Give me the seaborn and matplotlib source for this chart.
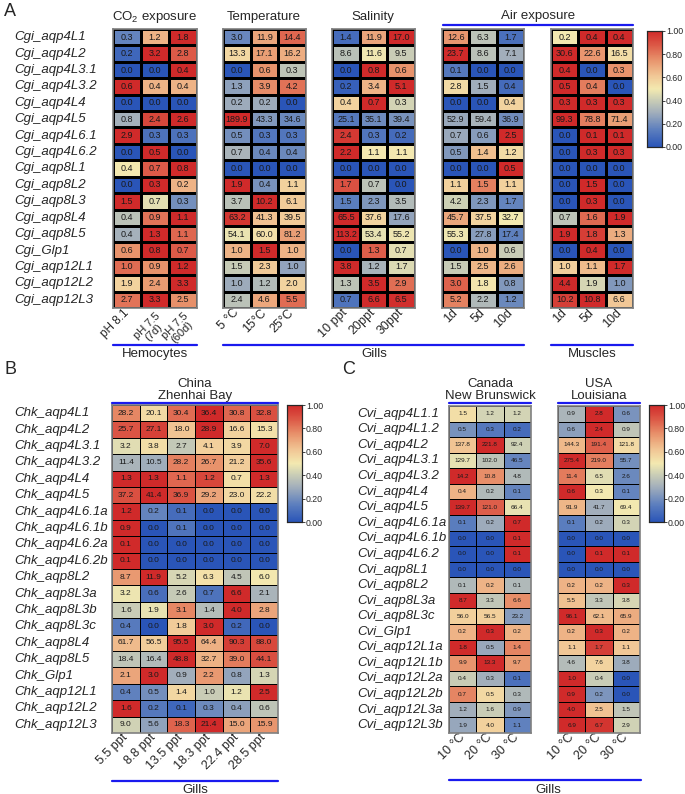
import matplotlib
matplotlib.use("Agg")
import matplotlib.pyplot as plt
import numpy as np
import pandas as pd
import seaborn as sns
from matplotlib.colors import LinearSegmentedColormap
from matplotlib.lines import Line2D

sns.set_style("white")
plt.rcParams['font.family'] = ['Liberation Sans', 'DejaVu Sans']
plt.rcParams['mathtext.default'] = 'regular'

W, H = 685, 794

# ---------------- panel A : Crassostrea gigas ----------------
cgi_genes = ["Cgi_aqp4L1", "Cgi_aqp4L2", "Cgi_aqp4L3.1", "Cgi_aqp4L3.2", "Cgi_aqp4L4",
             "Cgi_aqp4L5", "Cgi_aqp4L6.1", "Cgi_aqp4L6.2", "Cgi_aqp8L1", "Cgi_aqp8L2",
             "Cgi_aqp8L3", "Cgi_aqp8L4", "Cgi_aqp8L5", "Cgi_Glp1", "Cgi_aqp12L1",
             "Cgi_aqp12L2", "Cgi_aqp12L3"]
co2_cols = ["pH 8.1", "pH 7.5\n(7d)", "pH 7.5\n(60d)"]
temp_cols = ["5 °C", "15°C", "25°C"]
sal_cols = ["10 ppt", "20ppt", "30ppt"]
air_cols = ["1d", "5d", "10d"]

co2 = [[0.3, 1.2, 1.8], [0.2, 3.2, 2.8], [0.0, 0.0, 0.4], [0.6, 0.4, 0.4], [0.0, 0.0, 0.0],
       [0.8, 2.4, 2.6], [2.9, 0.3, 0.3], [0.0, 0.5, 0.0], [0.4, 0.7, 0.8], [0.0, 0.3, 0.2],
       [1.5, 0.7, 0.3], [0.4, 0.9, 1.1], [0.4, 1.3, 1.1], [0.6, 0.8, 0.7], [1.0, 0.9, 1.2],
       [1.9, 2.4, 3.3], [2.7, 3.3, 2.5]]
temp = [[3.0, 11.9, 14.4], [13.3, 17.1, 16.2], [0.0, 0.6, 0.3], [1.3, 3.9, 4.2], [0.2, 0.2, 0.0],
        [189.9, 43.3, 34.6], [0.5, 0.3, 0.3], [0.7, 0.4, 0.4], [0.0, 0.0, 0.0], [1.9, 0.4, 1.1],
        [3.7, 10.2, 6.1], [63.2, 41.3, 39.5], [54.1, 60.0, 81.2], [1.0, 1.5, 1.0], [1.5, 2.3, 1.0],
        [1.0, 1.2, 2.0], [2.4, 4.6, 5.5]]
sal = [[1.4, 11.9, 17.0], [8.6, 11.6, 9.5], [0.0, 0.8, 0.6], [0.2, 3.4, 5.1], [0.4, 0.7, 0.3],
       [25.1, 35.1, 39.4], [2.4, 0.3, 0.2], [2.2, 1.1, 1.1], [0.0, 0.0, 0.0], [1.7, 0.7, 0.0],
       [1.5, 2.3, 3.5], [65.5, 37.6, 17.6], [113.2, 53.4, 55.2], [0.0, 1.3, 0.7], [3.8, 1.2, 1.7],
       [1.3, 3.5, 2.9], [0.7, 6.6, 6.5]]
air_gill = [[12.6, 6.3, 1.7], [23.7, 8.6, 7.1], [0.1, 0.0, 0.0], [2.8, 1.5, 0.4], [0.0, 0.0, 0.4],
            [52.9, 59.4, 36.9], [0.7, 0.6, 2.5], [0.5, 1.4, 1.2], [0.0, 0.0, 0.5], [1.1, 1.5, 1.1],
            [4.2, 2.3, 1.7], [45.7, 37.5, 32.7], [55.3, 27.8, 17.4], [0.0, 1.0, 0.6], [1.5, 2.5, 2.6],
            [3.0, 1.8, 0.8], [5.2, 2.2, 1.2]]
air_muscle = [[0.2, 0.4, 0.4], [30.6, 22.6, 16.5], [0.4, 0.0, 0.3], [0.5, 0.4, 0.0], [0.3, 0.3, 0.3],
              [99.3, 78.8, 71.4], [0.0, 0.1, 0.1], [0.0, 0.3, 0.3], [0.0, 0.0, 0.0], [0.0, 1.5, 0.0],
              [0.0, 0.3, 0.0], [0.7, 1.6, 1.9], [1.9, 1.8, 1.3], [0.0, 0.4, 0.0], [1.0, 1.1, 1.7],
              [4.4, 1.9, 1.0], [10.2, 10.8, 6.6]]

# ---------------- panel B : Crassostrea hongkongensis ----------------
chk_genes = ["Chk_aqp4L1", "Chk_aqp4L2", "Chk_aqp4L3.1", "Chk_aqp4L3.2", "Chk_aqp4L4",
             "Chk_aqp4L5", "Chk_aqp4L6.1a", "Chk_aqp4L6.1b", "Chk_aqp4L6.2a", "Chk_aqp4L6.2b",
             "Chk_aqp8L2", "Chk_aqp8L3a", "Chk_aqp8L3b", "Chk_aqp8L3c", "Chk_aqp8L4",
             "Chk_aqp8L5", "Chk_Glp1", "Chk_aqp12L1", "Chk_aqp12L2", "Chk_aqp12L3"]
chk_cols = ["5.5 ppt", "8.8 ppt", "13.5 ppt", "18.3 ppt", "22.4 ppt", "28.5 ppt"]
chk = [[28.2, 20.1, 30.4, 36.4, 30.8, 32.8], [25.7, 27.1, 18.0, 28.9, 16.6, 15.3],
       [3.2, 3.8, 2.7, 4.1, 3.9, 7.0], [11.4, 10.5, 28.2, 26.7, 21.2, 35.6],
       [1.3, 1.3, 1.1, 1.2, 0.7, 1.3], [37.2, 41.4, 36.9, 29.2, 23.0, 22.2],
       [1.2, 0.2, 0.1, 0.0, 0.0, 0.0], [0.9, 0.0, 0.1, 0.0, 0.0, 0.0],
       [0.1, 0.0, 0.0, 0.0, 0.0, 0.0], [0.1, 0.0, 0.0, 0.0, 0.0, 0.0],
       [8.7, 11.9, 5.2, 6.3, 4.5, 6.0], [3.2, 0.6, 2.6, 0.7, 6.6, 2.1],
       [1.6, 1.9, 3.1, 1.4, 4.0, 2.8], [0.4, 0.0, 1.8, 3.0, 0.2, 0.0],
       [61.7, 56.5, 95.5, 64.4, 90.3, 88.0], [18.4, 16.4, 48.8, 32.7, 39.0, 44.1],
       [2.1, 3.0, 0.9, 2.2, 0.8, 1.3], [0.4, 0.5, 1.4, 1.0, 1.2, 2.5],
       [1.6, 0.2, 0.1, 0.3, 0.4, 0.6], [9.0, 5.6, 18.3, 21.4, 15.0, 15.9]]

# ---------------- panel C : Crassostrea virginica ----------------
cvi_genes = ["Cvi_aqp4L1.1", "Cvi_aqp4L1.2", "Cvi_aqp4L2", "Cvi_aqp4L3.1", "Cvi_aqp4L3.2",
             "Cvi_aqp4L4", "Cvi_aqp4L5", "Cvi_aqp4L6.1a", "Cvi_aqp4L6.1b", "Cvi_aqp4L6.2",
             "Cvi_aqp8L1", "Cvi_aqp8L2", "Cvi_aqp8L3a", "Cvi_aqp8L3c", "Cvi_Glp1",
             "Cvi_aqp12L1a", "Cvi_aqp12L1b", "Cvi_aqp12L2a", "Cvi_aqp12L2b", "Cvi_aqp12L3a",
             "Cvi_aqp12L3b"]
cvi_cols = ["10 °C", "20 °C", "30 °C"]
canada = [[1.5, 1.2, 1.2], [0.5, 0.3, 0.2], [137.8, 221.8, 92.4], [129.7, 102.0, 46.5],
          [14.2, 10.8, 4.8], [0.4, 0.2, 0.1], [139.7, 121.0, 66.4], [0.1, 0.2, 0.7],
          [0.0, 0.0, 0.1], [0.0, 0.0, 0.1], [0.0, 0.0, 0.0], [0.1, 0.2, 0.1], [8.7, 3.3, 6.6],
          [56.0, 56.5, 23.2], [0.2, 0.3, 0.2], [1.8, 0.5, 1.4], [9.9, 13.3, 9.7], [0.4, 0.3, 0.1],
          [0.7, 0.5, 0.3], [1.2, 1.6, 0.9], [1.9, 4.0, 1.1]]
usa = [[0.9, 2.8, 0.6], [0.6, 2.4, 0.9], [144.3, 191.4, 121.8], [275.4, 219.0, 55.7],
       [11.4, 6.5, 2.6], [0.6, 0.3, 0.1], [91.9, 41.7, 69.4], [0.1, 0.2, 0.3],
       [0.0, 0.0, 0.0], [0.0, 0.1, 0.1], [0.0, 0.0, 0.0], [0.2, 0.2, 0.3], [5.5, 3.3, 3.8],
       [96.1, 62.1, 65.9], [0.2, 0.3, 0.2], [1.1, 1.7, 1.1], [4.6, 7.6, 3.8], [1.0, 0.4, 0.0],
       [0.9, 0.2, 0.0], [4.0, 2.5, 1.5], [6.9, 6.7, 2.9]]

cmap = LinearSegmentedColormap.from_list("expr", [
    (0.00, "#2a55b8"), (0.15, "#5d7fbe"), (0.30, "#a3afbb"), (0.42, "#d0d2b5"),
    (0.50, "#f3e9b0"), (0.62, "#f1c594"), (0.75, "#e8936c"), (0.88, "#dc5846"),
    (1.00, "#d02a2a")])

BLUE = "#1a1aee"


def box(x0, y0, x1, y1):
    return [x0 / W, 1 - y1 / H, (x1 - x0) / W, (y1 - y0) / H]


def row_norm(*blocks):
    arrs = [np.asarray(b, float) for b in blocks]
    mx = np.hstack(arrs).max(axis=1, keepdims=True)
    mx[mx == 0] = 1
    return [a / mx for a in arrs]


def txt(x, y, s, **kw):
    kw.setdefault("ha", "center")
    kw.setdefault("va", "center")
    fig.text(x / W, 1 - y / H, s, **kw)


def hline(x0, x1, y):
    fig.add_artist(Line2D([x0 / W, x1 / W], [1 - y / H] * 2, color=BLUE, lw=1.6,
                          transform=fig.transFigure))


def heat(rect, vals, norm, cols, rows=None, label_x=14, fs=6.5, xfs=9, cax=None, lw=0.8):
    ax = fig.add_axes(box(*rect))
    df = pd.DataFrame(norm, columns=cols, index=rows)
    sns.heatmap(df, ax=ax, cmap=cmap, vmin=0, vmax=1, annot=np.asarray(vals), fmt=".1f",
                annot_kws={"fontsize": fs, "color": "#1a1a1a"},
                linewidths=lw, linecolor="black",
                cbar=cax is not None, cbar_ax=cax,
                xticklabels=cols, yticklabels=rows if rows is not None else False)
    ax.tick_params(axis="x", length=0, pad=2)
    ax.set_xticklabels(cols, rotation=45, ha="right", rotation_mode="anchor",
                       fontsize=xfs, va="center", multialignment="center", linespacing=0.9)
    for lbl in ax.get_xticklabels():
        if "\n" in lbl.get_text():
            lbl.set_va("top")
            lbl.set_fontsize(xfs - 0.5)
    if rows is not None:
        pad = (rect[0] - label_x) * 72 / 100
        ax.tick_params(axis="y", length=0, pad=pad)
        for lbl in ax.get_yticklabels():
            lbl.set_ha("left")
            lbl.set_rotation(0)
            lbl.set_fontstyle("italic")
            lbl.set_fontsize(9.5)
    ax.set_xlabel("")
    ax.set_ylabel("")
    for sp in ax.spines.values():
        sp.set_visible(True)
        sp.set_color("#808080")
        sp.set_linewidth(1.2)
    if cax is not None:
        cax.set_yticks([0, 0.2, 0.4, 0.6, 0.8, 1.0])
        cax.set_yticklabels(["%.2f" % t for t in [0, 0.2, 0.4, 0.6, 0.8, 1.0]])
        cax.tick_params(labelsize=6.3, length=2, width=0.6, pad=0.8)
        for sp in cax.spines.values():
            sp.set_visible(True)
            sp.set_linewidth(0.8)
    return ax


fig = plt.figure(figsize=(W / 100, H / 100), dpi=100)

# ---- A ----
hemo_n, = row_norm(co2)
temp_n, sal_n, airg_n = row_norm(temp, sal, air_gill)
airm_n, = row_norm(air_muscle)
top, bot = 29, 308
cax_a = fig.add_axes(box(647, 31, 662, 147))
heat((113, top, 197, bot), co2, hemo_n, co2_cols, cgi_genes, cax=cax_a, xfs=8.5)
heat((223, top, 306, bot), temp, temp_n, temp_cols)
heat((332, top, 415, bot), sal, sal_n, sal_cols)
heat((442, top, 524, bot), air_gill, airg_n, air_cols)
heat((551, top, 633, bot), air_muscle, airm_n, air_cols)

txt(10, 12, "A", fontsize=13)
txt(155, 17, "CO$_2$ exposure", fontsize=9.5)
txt(264, 17, "Temperature", fontsize=9.5)
txt(373, 17, "Salinity", fontsize=9.5)
txt(538, 16, "Air exposure", fontsize=9.5)
hline(443, 633, 25)
hline(113, 197, 345)
hline(223, 524, 345)
hline(551, 633, 345)
txt(155, 354, "Hemocytes", fontsize=9.5)
txt(374, 354, "Gills", fontsize=9.5)
txt(592, 354, "Muscles", fontsize=9.5)

# ---- B ----
chk_n, = row_norm(chk)
cax_b = fig.add_axes(box(287, 405, 302, 522))
heat((112, 405, 278, 733), chk, chk_n, chk_cols, chk_genes, cax=cax_b, fs=6, lw=0.7)
txt(10, 370, "B", fontsize=13)
txt(195, 390, "China\nZhenhai Bay", fontsize=9.5, linespacing=1.0)
hline(112, 278, 403)
hline(112, 278, 781)
txt(195, 790, "Gills", fontsize=9.5)

# ---- C ----
can_n, usa_n = row_norm(canada, usa)
cax_c = fig.add_axes(box(649, 405, 664, 522))
heat((449, 406, 531, 733), canada, can_n, cvi_cols, cvi_genes, label_x=357, cax=cax_c,
     fs=4.6, lw=0.6)
heat((558, 406, 640, 733), usa, usa_n, cvi_cols, fs=4.6, lw=0.6)
txt(349, 370, "C", fontsize=13)
txt(490, 390, "Canada\nNew Brunswick", fontsize=9.5, linespacing=1.0)
txt(599, 390, "USA\nLouisiana", fontsize=9.5, linespacing=1.0)
hline(449, 531, 403)
hline(558, 640, 403)
hline(449, 641, 780)
txt(548, 790, "Gills", fontsize=9.5)

fig.savefig("out.png", dpi=100)
